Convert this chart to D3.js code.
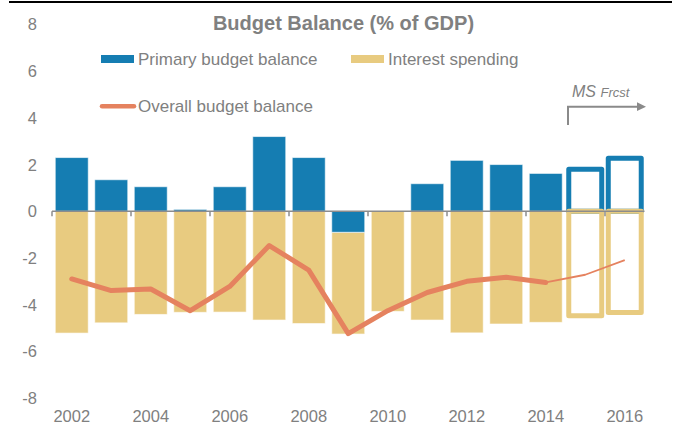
<!DOCTYPE html>
<html>
<head>
<meta charset="utf-8">
<script src="https://cdn.jsdelivr.net/npm/d3@7"></script>
<style>
  html, body { margin: 0; padding: 0; background: #fff; }
  svg { display: block; font-family: "Liberation Sans", Arial, sans-serif; }
</style>
</head>
<body>
<svg id="chart" width="675" height="425"></svg>
<script>
// Budget balance, % of GDP
const years = [2002, 2003, 2004, 2005, 2006, 2007, 2008, 2009, 2010, 2011, 2012, 2013, 2014, 2015, 2016];
const forecastYears = [2015, 2016];
const primaryBalance = [2.3, 1.35, 1.05, 0.08, 1.05, 3.2, 2.3, -0.9, 0.0, 1.18, 2.18, 2.0, 1.62, 1.8, 2.27];
const interestSpending = [-5.22, -4.78, -4.42, -4.33, -4.32, -4.66, -4.81, -4.36, -4.29, -4.66, -5.21, -4.83, -4.76, -4.48, -4.34];
const overallBalance = [-2.9, -3.4, -3.33, -4.26, -3.22, -1.47, -2.52, -5.24, -4.26, -3.48, -3.0, -2.83, -3.05, -2.72, -2.09];
const yTicks = [8, 6, 4, 2, 0, -2, -4, -6, -8];
const xTickLabels = [2002, 2004, 2006, 2008, 2010, 2012, 2014, 2016];

const COLORS = { primary: "#157db2", interest: "#e8cb80", overall: "#e5825f", text: "#808080", axis: "#8c8c8c" };

const svg = d3.select("#chart");

const x = d3.scaleBand().domain(years).range([52, 644.5]).paddingInner(0.165).paddingOuter(0.0825);
const y = d3.scaleLinear().domain([-8, 8]).range([398, 24.5]);

// rule across the top
svg.append("line").attr("x1", 9).attr("x2", 672).attr("y1", 2).attr("y2", 2)
  .attr("stroke", "#000").attr("stroke-width", 2);

// title
svg.append("text").attr("x", 343.5).attr("y", 30).attr("text-anchor", "middle")
  .attr("font-size", 20).attr("font-weight", "bold").attr("fill", COLORS.text)
  .text("Budget Balance (% of GDP)");

// y tick labels
svg.append("g").selectAll("text").data(yTicks).join("text")
  .attr("x", 37).attr("y", d => y(d)).attr("dy", "0.36em").attr("text-anchor", "end")
  .attr("font-size", 16.5).attr("fill", COLORS.text)
  .text(d => d);

// stacked bars: positives stack up from 0, negatives stack down from 0
const rows = years.map((yr, i) => {
  const p = primaryBalance[i], s = interestSpending[i];
  const pBase = 0;
  const sBase = p < 0 ? p : 0;
  return { year: yr, forecast: forecastYears.includes(yr),
    primary: [pBase, p], interest: [sBase, sBase + s] };
});

const bars = svg.append("g");
const actual = rows.filter(r => !r.forecast);
const fcst = rows.filter(r => r.forecast);

function barRect(sel, key) {
  sel.attr("x", d => x(d.year)).attr("width", x.bandwidth())
    .attr("y", d => y(Math.max(d[key][0], d[key][1])))
    .attr("height", d => Math.abs(y(d[key][0]) - y(d[key][1])));
}

bars.selectAll("rect.int").data(actual).join("rect").attr("class", "int")
  .call(barRect, "interest").attr("fill", COLORS.interest)
  .attr("stroke", "#fff").attr("stroke-width", 1).attr("stroke-opacity", 0.6);
bars.selectAll("rect.pri").data(actual).join("rect").attr("class", "pri")
  .call(barRect, "primary").attr("fill", COLORS.primary)
  .attr("stroke", "#fff").attr("stroke-width", 1).attr("stroke-opacity", 0.6);

// forecast years drawn as outlines
bars.selectAll("rect.fpri").data(fcst).join("rect").attr("class", "fpri")
  .call(barRect, "primary").attr("fill", "#fff")
  .attr("stroke", COLORS.primary).attr("stroke-width", 5).attr("stroke-linejoin", "round");
bars.selectAll("rect.fint").data(fcst).join("rect").attr("class", "fint")
  .call(barRect, "interest").attr("fill", "#fff").attr("fill-opacity", 0)
  .attr("stroke", COLORS.interest).attr("stroke-width", 5).attr("stroke-linejoin", "round");

// category axis at zero with ticks between every second year
const step = x.step();
const x0 = x.range()[0], x1 = x.range()[1];
svg.append("line").attr("x1", x0).attr("x2", x1).attr("y1", y(0)).attr("y2", y(0))
  .attr("stroke", COLORS.axis).attr("stroke-width", 1.5);
svg.append("g").selectAll("line").data(d3.range(0, years.length, 2)).join("line")
  .attr("x1", i => x0 + i * step).attr("x2", i => x0 + i * step)
  .attr("y1", y(0)).attr("y2", y(0) + 5)
  .attr("stroke", COLORS.axis).attr("stroke-width", 1.5);

// year labels
svg.append("g").selectAll("text").data(xTickLabels).join("text")
  .attr("x", d => x(d) + x.bandwidth() / 2).attr("y", 421.5).attr("text-anchor", "middle")
  .attr("font-size", 16.5).attr("fill", COLORS.text)
  .text(d => d);

// overall balance line: thick for outturns, thin for forecast
const pts = years.map((yr, i) => ({ year: yr, v: overallBalance[i] }));
const line = d3.line().x(d => x(d.year) + x.bandwidth() / 2).y(d => y(d.v));
const lastActual = years.indexOf(2014);
svg.append("path").datum(pts.slice(0, lastActual + 1)).attr("d", line)
  .attr("fill", "none").attr("stroke", COLORS.overall).attr("stroke-width", 5)
  .attr("stroke-linejoin", "round").attr("stroke-linecap", "round");
svg.append("path").datum(pts.slice(lastActual)).attr("d", line)
  .attr("fill", "none").attr("stroke", COLORS.overall).attr("stroke-width", 1.8)
  .attr("stroke-linejoin", "round");

// legend
const legend = svg.append("g").attr("font-size", 17).attr("fill", COLORS.text);
legend.append("rect").attr("x", 101).attr("y", 55).attr("width", 33).attr("height", 8).attr("fill", COLORS.primary);
legend.append("text").attr("x", 138).attr("y", 64.5).text("Primary budget balance");
legend.append("rect").attr("x", 351).attr("y", 55).attr("width", 33).attr("height", 8).attr("fill", COLORS.interest);
legend.append("text").attr("x", 388).attr("y", 64.5).text("Interest spending");
legend.append("line").attr("x1", 102).attr("x2", 134).attr("y1", 106.3).attr("y2", 106.3)
  .attr("stroke", COLORS.overall).attr("stroke-width", 4.5).attr("stroke-linecap", "round");
legend.append("text").attr("x", 138).attr("y", 111.5).text("Overall budget balance");

// forecast marker
const note = svg.append("g").attr("fill", COLORS.text);
const nt = note.append("text").attr("x", 572).attr("y", 96.7).attr("font-style", "italic");
nt.append("tspan").attr("font-size", 16).text("MS ");
nt.append("tspan").attr("font-size", 13).text("Frcst");
note.append("path").attr("d", "M568,125 V106.7 H638")
  .attr("fill", "none").attr("stroke", "#8a8a8a").attr("stroke-width", 2);
note.append("path").attr("d", "M637,102.3 L646,106.7 L637,111.1 Z").attr("fill", "#8a8a8a");
</script>
</body>
</html>
